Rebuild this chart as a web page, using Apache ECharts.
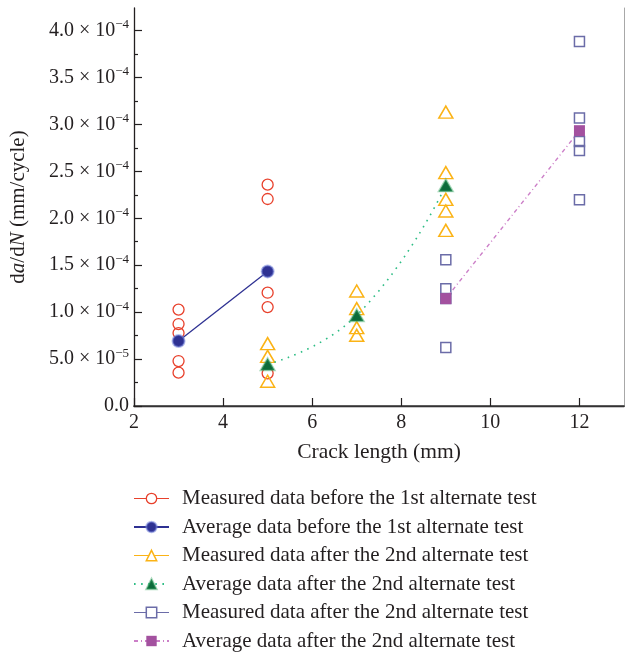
<!DOCTYPE html>
<html>
<head>
<meta charset="utf-8">
<script src="https://cdn.jsdelivr.net/npm/echarts@6/dist/echarts.min.js"></script>
<style>
  html, body { margin: 0; padding: 0; background: #fff; }
  #chart { width: 625px; height: 654px; }
</style>
</head>
<body>
<div id="chart"></div>
<script>
// values in units of 1e-4 mm/cycle
const E = 1e-4;

const before1stMeasured = [
  [3, 1.027], [3, 0.873], [3, 0.777], [3, 0.479], [3, 0.355],
  [5, 2.358], [5, 2.205], [5, 1.207], [5, 1.054], [5, 0.348],
];
const before1stAverage = [[3, 0.692], [5, 1.434]];

const after2ndMeasuredA = [
  [5, 0.664], [5, 0.529], [5, 0.263],
  [7, 1.225], [7, 1.037], [7, 0.835], [7, 0.753],
  [9, 3.131], [9, 2.486], [9, 2.201], [9, 2.077], [9, 1.871],
];
const after2ndAverageA = [[5, 0.444], [7, 0.966], [9, 2.35]];

const after2ndMeasuredB = [
  [9, 1.559], [9, 1.25], [9, 1.145], [9, 0.622],
  [12, 3.884], [12, 3.067], [12, 2.819], [12, 2.723], [12, 2.198],
];
const after2ndAverageB = [[9, 1.144], [12, 2.933]];

const xTickValues = [2, 4, 6, 8, 10, 12];
const yTickValues = [0, 0.5, 1, 1.5, 2, 2.5, 3, 3.5, 4];
const yMinorTickValues = [0.25, 0.75, 1.25, 1.75, 2.25, 2.75, 3.25, 3.75];

// the last two names get a trailing space so the legend keeps them apart
const legendNames = [
  "Measured data before the 1st alternate test",
  "Average data before the 1st alternate test",
  "Measured data after the 2nd alternate test",
  "Average data after the 2nd alternate test",
  "Measured data after the 2nd alternate test ",
  "Average data after the 2nd alternate test ",
];

const scale = (arr) => arr.map((p) => [p[0], p[1] * E]);

const FONT = "Liberation Serif";
const INK = "#231f20";

function yLabel(v) {
  if (Math.abs(v) < 1e-12) return "{b|0.0}";
  let e = Math.floor(Math.log10(v) + 1e-9);
  let m = (v / Math.pow(10, e)).toFixed(1);
  return `{b|${m} × 10}{s|−${-e}}`;
}

const chart = echarts.init(document.getElementById("chart"));

const hollow = "rgba(255,255,255,0)";

const option = {
  animation: false,
  backgroundColor: "#fff",
  textStyle: { fontFamily: FONT, color: INK },
  grid: { left: 133, right: 1, top: 8, bottom: 248 },
  legend: {
    orient: "vertical",
    left: 133,
    top: 488,
    padding: 0,
    itemWidth: 35,
    itemHeight: 13,
    itemGap: 7.5,
    selectedMode: false,
    textStyle: { fontFamily: FONT, fontSize: 21, color: INK, padding: [0, 0, 0, 8] },
    data: [
      {
        name: legendNames[0],
        lineStyle: { opacity: 1, width: 1.2, color: "#e8412c" },
        itemStyle: { color: "#fff", borderColor: "#e8412c", borderWidth: 1.3 },
      },
      { name: legendNames[1] },
      {
        name: legendNames[2],
        lineStyle: { opacity: 1, width: 1.2, color: "#fbb316" },
        itemStyle: { color: "#fff", borderColor: "#fbb316", borderWidth: 1.5 },
      },
      { name: legendNames[3] },
      {
        name: legendNames[4],
        lineStyle: { opacity: 1, width: 1.2, color: "#6b6ca8" },
        itemStyle: { color: "#fff", borderColor: "#6b6ca8", borderWidth: 1.5 },
      },
      { name: legendNames[5] },
    ],
  },
  xAxis: [
    {
      type: "value",
      position: "bottom",
      min: 2,
      max: 13,
      interval: 2,
      name: "Crack length (mm)",
      nameLocation: "middle",
      nameGap: 35,
      nameTextStyle: { fontFamily: FONT, fontSize: 21.5, color: INK },
      axisLine: { lineStyle: { color: INK, width: 1.3 } },
      axisTick: { inside: true, length: 8, lineStyle: { color: INK, width: 1.2 }, customValues: xTickValues },
      axisLabel: { fontFamily: FONT, fontSize: 20, color: INK, margin: 7, customValues: xTickValues },
      splitLine: { show: false },
    },
    {
      type: "value",
      position: "top",
      min: 2,
      max: 13,
      axisLine: { lineStyle: { color: "#3a3a3a", width: 1.6 } },
      axisTick: { show: false },
      axisLabel: { show: false },
      splitLine: { show: false },
    },
  ],
  yAxis: [
    {
      type: "value",
      position: "left",
      min: 0,
      max: 4.24 * E,
      interval: 0.5 * E,
      name: "{n|d}{i|a}{n|/d}{i|N}{n| (mm/cycle)}",
      nameLocation: "middle",
      nameGap: 105,
      nameRotate: 90,
      nameTextStyle: {
        rich: {
          n: { fontFamily: FONT, fontSize: 21, color: INK },
          i: { fontFamily: FONT, fontSize: 21, color: INK, fontStyle: "italic" },
        },
      },
      axisLine: { lineStyle: { color: INK, width: 1.3 } },
      axisTick: {
        inside: true,
        length: 8,
        lineStyle: { color: INK, width: 1.2 },
        customValues: yTickValues.map((v) => v * E),
      },
      axisLabel: {
        margin: 5,
        customValues: yTickValues.map((v) => v * E),
        formatter: yLabel,
        rich: {
          b: { fontFamily: FONT, fontSize: 20, color: INK },
          s: { fontFamily: FONT, fontSize: 13, color: INK, padding: [0, 0, 11, 0] },
        },
      },
      splitLine: { show: false },
    },
    {
      type: "value",
      position: "left",
      min: 0,
      max: 4.24 * E,
      interval: 0.25 * E,
      axisLine: { show: false },
      axisTick: {
        inside: true,
        length: 4,
        lineStyle: { color: INK, width: 1.2 },
        customValues: yMinorTickValues.map((v) => v * E),
      },
      axisLabel: { show: false },
      splitLine: { show: false },
    },
    {
      type: "value",
      position: "right",
      min: 0,
      max: 4.24 * E,
      axisLine: { show: true, lineStyle: { color: "#a8a8a8", width: 1 } },
      axisTick: { show: false },
      axisLabel: { show: false },
      splitLine: { show: false },
    },
  ],
  series: [
    {
      name: legendNames[0],
      type: "line",
      data: scale(before1stMeasured),
      symbol: "circle",
      symbolSize: 11,
      lineStyle: { opacity: 0 },
      itemStyle: { color: hollow, borderColor: "#e8412c", borderWidth: 1.3 },
      z: 2,
    },
    {
      name: legendNames[1],
      type: "line",
      data: scale(before1stAverage),
      symbol: "circle",
      symbolSize: 12,
      lineStyle: { color: "#2e3192", width: 1.3 },
      itemStyle: { color: "#2e3192", borderColor: "rgba(120,135,220,0.55)", borderWidth: 2 },
      z: 3,
    },
    {
      name: legendNames[2],
      type: "line",
      data: scale(after2ndMeasuredA),
      symbol: "triangle",
      symbolSize: [14, 12],
      lineStyle: { opacity: 0 },
      itemStyle: { color: hollow, borderColor: "#fbb316", borderWidth: 1.5 },
      z: 4,
    },
    {
      name: legendNames[3],
      type: "line",
      data: scale(after2ndAverageA),
      smooth: 0.5,
      symbol: "triangle",
      symbolSize: [14, 12],
      lineStyle: { color: "#2ebd85", width: 1.6, type: [1.6, 5.5] },
      itemStyle: { color: "#0b6b3a", borderColor: "rgba(70,175,110,0.45)", borderWidth: 2 },
      z: 5,
    },
    {
      name: legendNames[4],
      type: "line",
      data: scale(after2ndMeasuredB),
      symbol: "rect",
      symbolSize: 10,
      lineStyle: { opacity: 0 },
      itemStyle: { color: hollow, borderColor: "#6b6ca8", borderWidth: 1.5 },
      z: 6,
    },
    {
      name: legendNames[5],
      type: "line",
      data: scale(after2ndAverageB),
      symbol: "rect",
      symbolSize: 11,
      lineStyle: { color: "#cc7fc8", width: 1.4, type: [4, 3, 1, 3] },
      itemStyle: { color: "#a3519f" },
      z: 7,
    },
  ],
};

chart.setOption(option);
</script>
</body>
</html>
